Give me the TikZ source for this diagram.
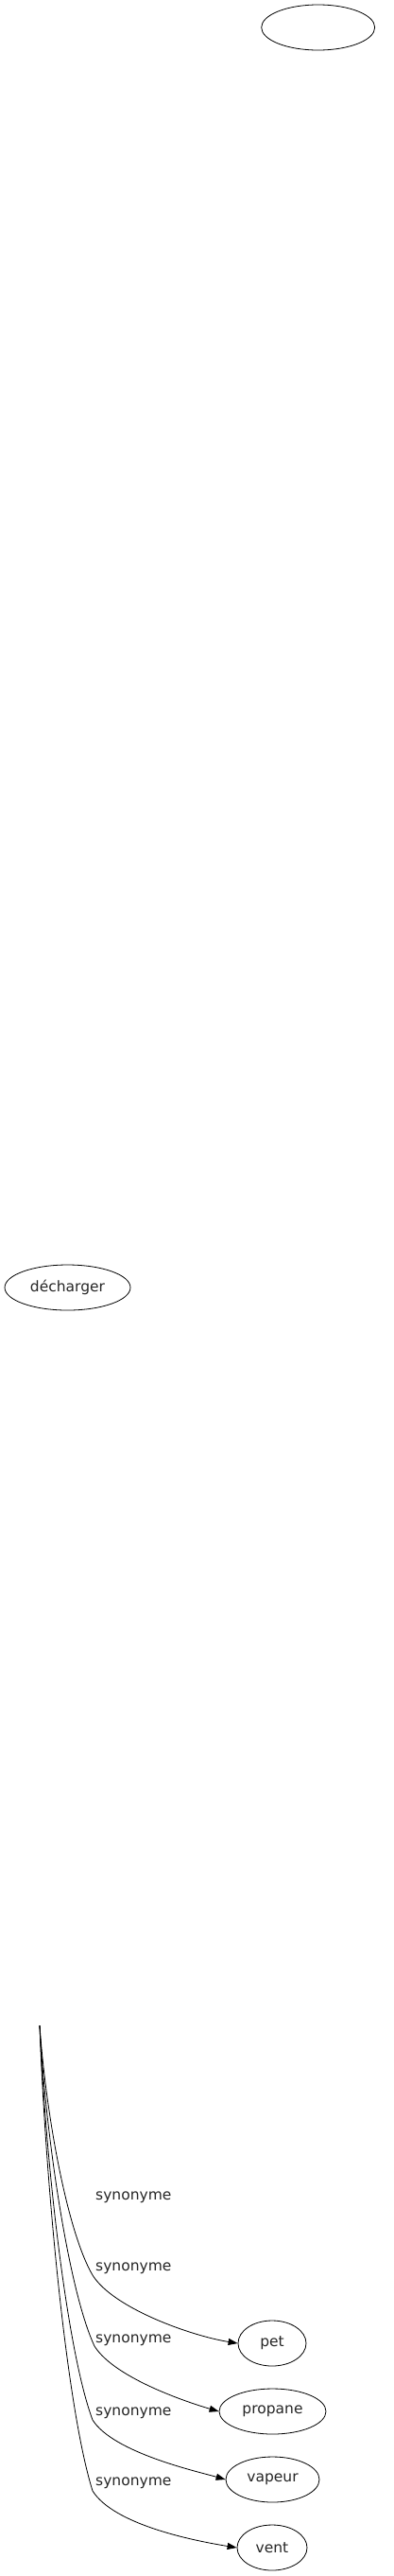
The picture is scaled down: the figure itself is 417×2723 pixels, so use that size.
\documentclass[tikz,border=0pt]{standalone}
\usepackage{fontspec}
\setmainfont{DejaVu Sans}
\usetikzlibrary{shapes.geometric,arrows.meta}
\begin{document}
\begin{tikzpicture}[x=1pt,y=-1pt,
  every node/.style={font=\fontsize{15.5}{18}\selectfont, text=black!85},
  word/.style={draw, ellipse, inner sep=0pt, line width=0.8pt, minimum height=48pt},
  rel/.style={anchor=west, inner sep=0pt},
  link/.style={line width=0.8pt, -{Triangle[length=10pt,width=7pt]}}]
\useasboundingbox (0,0) rectangle (417,2723);
\node[word, minimum width=120pt] (top) at (336.7,29) {};
\node[word, minimum width=133pt] (dech) at (71.5,1361) {décharger};
\node[word, minimum width=72pt] (pet) at (288,2477) {pet};
\node[word, minimum width=113pt] (propane) at (288.5,2549) {propane};
\node[word, minimum width=99pt] (vapeur) at (288.5,2621) {vapeur};
\node[word, minimum width=74pt] (vent) at (288,2693) {vent};
\coordinate (s) at (42,2141);
\coordinate (b1) at (98,2405);
\coordinate (b2) at (100,2480);
\coordinate (b3) at (98,2558);
\coordinate (b4) at (98,2633);
\draw[link] (s) .. controls (48,2228) and (70,2357) .. (b1)
  .. controls (120,2440) and (202,2469) .. (pet.west);
\draw[link] (s) .. controls (48,2253) and (72,2420) .. (b2)
  .. controls (122,2515) and (204,2541) .. (propane.west);
\draw[link] (s) .. controls (48,2279) and (70,2483) .. (b3)
  .. controls (120,2593) and (211,2613) .. (vapeur.west);
\draw[link] (s) .. controls (48,2303) and (70,2544) .. (b4)
  .. controls (120,2668) and (201,2685) .. (vent.west);
\node[rel] (l0) at (101,2323) {synonyme};
\node[rel] (l1) at (101,2398) {synonyme};
\node[rel] (l2) at (101,2474) {synonyme};
\node[rel] (l3) at (101,2551) {synonyme};
\node[rel] (l4) at (101,2625) {synonyme};
\end{tikzpicture}
\end{document}
